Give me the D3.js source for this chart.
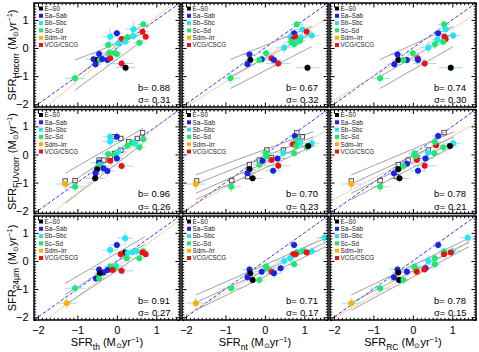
<!DOCTYPE html>
<html><head><meta charset="utf-8">
<script src="https://cdn.jsdelivr.net/npm/d3@7"></script>
<style>body{margin:0;background:#fff}svg{display:block}text{font-family:"Liberation Sans",Arial,Helvetica,sans-serif}</style>
</head><body><svg id="c" width="479" height="352"></svg>
<script>
// ---------- data ----------
const typeNames = ["E\u2013S0","Sa\u2013Sab","Sb\u2013Sbc","Sc\u2013Sd","Sdm\u2013Irr","VCG/CSCG"];
const typeColors = ["#000000","#1f1fe6","#22e6f0","#22e86a","#ffb000","#ee1111"];
const xSubs = ["th","nt","RC"];
const ySubs = ["H\u03b1corr","FUVcorr","24\u03bcm"];
const axisTicks = [-2,-1,0,1];
const bValues = [[0.88,0.67,0.74],[0.96,0.70,0.78],[0.91,0.71,0.78]];
const sigmaValues = [[0.31,0.32,0.30],[0.26,0.23,0.21],[0.27,0.17,0.15]];
// orange fit lines [slope, intercept]
const fitLines = [[[1.14,-0.04],[0.88,-0.33],[0.85,-0.16]],
                  [[1.16,-0.19],[0.79,-0.38],[0.75,-0.10]],
                  [[1.05,-0.21],[0.80,-0.32],[0.80,-0.43]]];
// points: [x, y, type, xerr, yerr]
const ptsHaTh = [[0.67,0.84,3,.15,.12],[0.42,0.67,2,.2,.25],[0.00,0.52,1,.15,.15],[0.65,0.58,5,.15,.12],[-0.17,0.40,2,.2,.3],[0.12,0.32,5,.12,.1],[0.21,0.22,2,.15,.12],[0.27,0.38,3,.2,.15],[0.42,0.43,2,.15,.15],[0.73,0.40,5,.12,.1],[0.57,0.19,3,.15,.15],[-0.22,0.11,3,.15,.15],[0.04,0.17,2,.2,.2],[-0.45,-0.21,1,.2,.15],[-0.19,-0.17,3,.15,.15],[-0.05,-0.19,3,.15,.12],[0.00,-0.21,3,.12,.12],[-0.59,-0.40,1,.2,.15],[-0.49,-0.43,0,.15,.12],[-0.43,-0.43,3,.15,.12],[-0.37,-0.39,1,.2,.15],[-0.24,-0.43,1,.2,.2],[-0.17,-0.37,5,.12,.1],[-0.54,-0.58,1,.15,.15],[0.12,-0.55,5,.3,.15],[0.22,-0.70,0,.25,.15],[-1.06,-1.08,3,.25,.2]];
const ptsHaNt = [[0.81,0.84,3,.15,.12],[0.95,0.66,2,.2,.25],[0.74,0.52,1,.15,.15],[1.06,0.58,5,.15,.12],[0.78,0.40,5,.12,.1],[0.65,0.38,2,.2,.2],[0.72,0.32,5,.12,.1],[0.91,0.37,2,.15,.12],[1.19,0.44,2,.2,.15],[0.67,0.22,3,.15,.15],[0.81,0.22,2,.15,.15],[0.74,0.13,3,.15,.15],[0.89,0.26,3,.15,.12],[0.49,0.01,2,.2,.2],[-0.39,-0.23,1,.2,.15],[0.03,-0.19,3,.15,.12],[-0.37,-0.43,0,.15,.12],[-0.44,-0.58,1,.2,.15],[-0.08,-0.40,1,.2,.15],[-0.14,-0.43,3,.15,.12],[0.17,-0.37,5,.12,.1],[0.23,-0.43,1,.2,.2],[0.34,-0.55,5,.3,.15],[1.08,-0.70,0,.3,.15],[-0.87,-1.08,3,.25,.2]];
const ptsHaRc = [[0.79,0.84,3,.15,.12],[0.83,0.67,2,.2,.25],[0.64,0.52,1,.15,.15],[0.83,0.32,5,.12,.1],[1.02,0.44,2,.2,.15],[0.80,0.40,5,.12,.1],[0.56,0.13,3,.15,.15],[0.77,0.22,3,.15,.15],[0.39,0.01,2,.2,.2],[0.62,0.30,2,.15,.12],[-0.39,-0.23,1,.2,.15],[0.00,-0.19,3,.15,.12],[-0.37,-0.43,0,.15,.12],[-0.47,-0.58,1,.2,.15],[-0.15,-0.43,1,.2,.15],[-0.24,-0.43,3,.15,.12],[0.12,-0.37,5,.12,.1],[0.13,-0.43,1,.2,.2],[0.30,-0.55,5,.3,.15],[0.96,-0.70,0,.3,.15],[-0.83,-1.08,3,.25,.2]];
const ptsFuvTh = [[-0.17,0.63,2,.2,.2],[0.00,0.63,1,.15,.15],[-0.17,0.46,2,.2,.2],[0.38,0.42,3,.15,.15],[0.27,0.31,3,.15,.15],[0.46,0.40,2,.15,.15],[0.67,0.54,3,.15,.12],[0.57,0.26,3,.15,.15],[-0.22,0.02,3,.15,.15],[0.04,0.10,2,.2,.2],[-0.05,-0.02,3,.15,.15],[-0.45,-0.29,1,.2,.15],[0.00,-0.14,1,.15,.15],[-0.17,-0.22,5,.12,.1],[-0.43,-0.37,3,.15,.15],[-0.34,-0.49,1,.2,.15],[-0.24,-0.59,1,.2,.2],[0.12,-0.41,5,.3,.15],[-0.50,-0.53,0,.15,.12],[-0.54,-0.67,1,.2,.15],[-0.55,-0.85,0,.25,.15],[-1.31,-1.05,4,.25,.2],[-1.06,-1.15,3,.25,.2]];
const ptsFuvNt = [[0.76,0.66,1,.15,.15],[0.81,0.51,3,.15,.12],[0.89,0.42,2,.15,.15],[0.71,0.36,5,.12,.1],[0.79,0.30,3,.15,.12],[1.19,0.40,2,.2,.15],[1.06,0.26,3,.15,.15],[1.10,0.30,0,.2,.15],[0.74,0.04,3,.15,.15],[0.47,0.06,2,.2,.2],[0.17,-0.20,5,.12,.1],[0.32,-0.14,1,.2,.15],[0.02,0.06,3,.15,.15],[0.05,-0.06,3,.15,.15],[-0.14,-0.37,3,.15,.15],[-0.06,-0.22,1,.2,.15],[0.34,-0.40,5,.3,.15],[0.21,-0.58,1,.2,.2],[-0.39,-0.53,0,.15,.12],[-0.44,-0.67,1,.2,.15],[-0.31,-0.85,0,.25,.15],[-0.85,-1.15,3,.25,.2],[-1.75,-1.05,4,.25,.2]];
const ptsFuvRc = [[0.64,0.66,1,.15,.15],[1.02,0.40,2,.2,.15],[0.94,0.30,0,.2,.15],[0.77,0.26,3,.15,.15],[0.59,0.33,5,.12,.1],[0.56,0.44,3,.15,.12],[0.54,0.04,3,.15,.15],[0.39,0.06,2,.2,.2],[0.32,-0.14,1,.2,.15],[0.10,-0.20,5,.12,.1],[0.04,0.04,3,.15,.15],[0.06,-0.06,3,.15,.15],[-0.15,-0.33,1,.2,.15],[-0.24,-0.41,3,.15,.15],[-0.37,-0.53,0,.15,.12],[-0.48,-0.67,1,.2,.15],[-0.34,-0.85,0,.25,.15],[0.30,-0.40,5,.3,.15],[0.13,-0.58,1,.2,.2],[-0.83,-1.15,3,.25,.2],[-1.56,-1.05,4,.25,.2]];
const ptsMirTh = [[0.00,0.57,1,.15,.15],[0.21,0.81,2,.2,.25],[-0.17,0.39,2,.2,.2],[0.21,0.30,0,.15,.12],[0.10,0.24,5,.12,.1],[0.27,0.28,2,.15,.12],[0.40,0.32,2,.15,.12],[0.25,0.10,3,.15,.15],[0.50,0.35,2,.15,.15],[0.67,0.35,3,.15,.12],[0.65,0.30,5,.12,.1],[0.73,0.24,5,.12,.1],[0.57,0.10,3,.15,.15],[-0.45,-0.30,1,.2,.15],[-0.17,-0.20,3,.15,.15],[-0.02,-0.17,2,.2,.2],[-0.05,-0.26,3,.15,.12],[-0.24,-0.32,1,.2,.15],[-0.34,-0.41,1,.2,.15],[-0.43,-0.44,0,.15,.12],[-0.53,-0.62,1,.2,.15],[-0.45,-0.62,3,.15,.12],[-0.11,-0.32,5,.12,.1],[0.12,-0.35,5,.3,.15],[-1.06,-0.97,3,.25,.2],[-1.27,-1.50,4,.25,.2]];
const ptsMirNt = [[1.51,0.83,2,.2,.2],[0.74,0.57,1,.15,.15],[0.93,0.35,2,.15,.15],[0.81,0.31,3,.15,.12],[0.72,0.24,5,.12,.1],[0.78,0.24,5,.12,.1],[1.19,0.35,2,.2,.15],[1.00,0.35,3,.15,.12],[1.06,0.30,5,.12,.1],[0.74,-0.12,3,.15,.15],[0.49,0.00,2,.2,.2],[0.64,0.10,2,.15,.15],[-0.39,-0.30,1,.2,.15],[0.03,-0.20,3,.15,.15],[0.05,-0.26,3,.15,.12],[-0.08,-0.38,1,.2,.15],[-0.37,-0.44,0,.15,.12],[-0.44,-0.58,1,.2,.15],[0.17,-0.38,5,.12,.1],[0.40,-0.26,1,.2,.15],[0.23,-0.44,1,.2,.2],[-0.31,-0.68,0,.25,.15],[-0.14,-0.68,3,.15,.15],[-0.85,-0.97,3,.25,.2],[-1.75,-1.50,4,.25,.2]];
const ptsMirRc = [[1.39,0.83,2,.2,.2],[0.64,0.57,1,.15,.15],[0.39,0.00,2,.2,.2],[0.56,0.10,3,.15,.15],[0.79,0.35,3,.15,.12],[0.79,0.24,5,.12,.1],[1.00,0.35,2,.2,.15],[0.96,0.30,5,.12,.1],[0.56,-0.12,3,.15,.15],[-0.39,-0.30,1,.2,.15],[0.04,-0.20,3,.15,.15],[0.06,-0.26,3,.15,.12],[-0.15,-0.38,1,.2,.15],[-0.37,-0.41,0,.15,.12],[-0.48,-0.58,1,.2,.15],[0.10,-0.38,5,.12,.1],[0.32,-0.26,1,.2,.15],[0.29,-0.30,5,.12,.1],[-0.35,-0.68,0,.25,.15],[-0.24,-0.68,3,.15,.15],[-0.83,-0.97,3,.25,.2],[-1.56,-1.50,4,.25,.2]];
// open squares (row 2)
const sqFuvTh = [[-1.31,-0.94],[-1.06,-0.93],[-0.45,-0.20],[-0.33,-0.20],[-0.17,-0.10],[-0.05,0.04],[0.10,0.15],[-0.10,0.63],[0.10,0.57],[0.65,0.77],[0.52,0.57],[0.30,0.45]];
const sqFuvNt = [[0.81,0.78],[0.95,0.63],[0.47,0.16],[0.17,-0.11],[0.05,0.16],[-0.14,-0.20],[-0.39,-0.36],[-0.44,-0.79],[-0.84,-0.93],[-1.73,-0.94]];
const sqFuvRc = [[0.79,0.78],[0.39,0.16],[0.10,-0.11],[-0.12,-0.20],[-0.37,-0.36],[-0.42,-0.79],[-0.83,-0.93],[-1.56,-0.94]];
// grey lines [x1,y1,x2,y2]
const greyHaTh = [[-1.06,-0.43,0.67,0.52],[-1.06,-1.50,0.67,0.28],[-1.06,-1.07,0.67,0.84]];
const greyHaNt = [[-0.87,-0.41,1.19,0.77],[-0.87,-1.44,1.19,0.05],[-0.87,-1.02,1.19,0.52]];
const greyHaRc = [[-0.83,-0.41,1.02,0.77],[-0.83,-1.44,1.02,0.05],[-0.83,-1.02,1.02,0.52]];
const greyFuvTh = [[-1.31,-0.67,0.67,0.93],[-1.31,-1.74,0.67,0.40],[-1.31,-1.15,0.67,0.75]];
const greyFuvNt = [[-1.75,-0.73,1.23,0.81],[-1.75,-1.38,1.23,0.46],[-1.75,-1.05,1.23,0.63],[-1.75,-1.60,1.23,0.30]];
const greyFuvRc = [[-1.56,-0.73,1.05,0.81],[-1.56,-1.38,1.05,0.46],[-1.56,-1.05,1.05,0.63],[-1.56,-1.60,1.05,0.30]];
const greyMirTh = [[-1.31,-0.80,0.71,0.86],[-1.31,-1.57,0.71,0.33],[-1.31,-1.20,0.71,0.60]];
const greyMirNt = [[-1.75,-1.21,1.54,0.81],[-1.75,-1.75,1.54,0.51],[-1.75,-1.48,1.54,0.66]];
const greyMirRc = [[-1.56,-1.21,1.42,0.81],[-1.56,-1.75,1.42,0.51],[-1.56,-1.48,1.42,0.66]];

const panelPts = [[ptsHaTh,ptsHaNt,ptsHaRc],[ptsFuvTh,ptsFuvNt,ptsFuvRc],[ptsMirTh,ptsMirNt,ptsMirRc]];
const panelSq = [[[],[],[]],[sqFuvTh,sqFuvNt,sqFuvRc],[[],[],[]]];
const panelGrey = [[greyHaTh,greyHaNt,greyHaRc],[greyFuvTh,greyFuvNt,greyFuvRc],[greyMirTh,greyMirNt,greyMirRc]];

// ---------- layout ----------
const colX = [34,182,330], rowY = [3,109.5,216], W = 146, H = 104;
const dom = [-2.1,1.6];
const x = d3.scaleLinear().domain(dom).range([0,W]);
const y = d3.scaleLinear().domain(dom).range([H,0]);
const svg = d3.select("#c");
const minorVals = d3.range(-21,17).filter(i=>i%10!==0).map(i=>i/10);

function sfrLabel(t, sub){
  t.append("tspan").text("SFR");
  t.append("tspan").attr("font-size",8.5).attr("dy",3.5).text(sub);
  t.append("tspan").attr("dy",-3.5).text(" (M");
  t.append("tspan").attr("font-size",6.5).attr("dy",2).text("\u2299");
  t.append("tspan").attr("dy",-2).text("yr");
  t.append("tspan").attr("font-size",7.5).attr("dy",-4).text("\u22121");
  t.append("tspan").attr("dy",4).text(")");
}

for (let r=0;r<3;r++) for (let c=0;c<3;c++){
  const g = svg.append("g").attr("transform",`translate(${colX[c]},${rowY[r]})`);
  const cid = `clip${r}${c}`;
  g.append("clipPath").attr("id",cid).append("rect").attr("width",W).attr("height",H);
  const pl = g.append("g").attr("clip-path",`url(#${cid})`);
  const line = d3.line().x(d=>x(d[0])).y(d=>y(d[1]));
  // 1:1 line
  pl.append("path").attr("d",line([[dom[0],dom[0]],[dom[1],dom[1]]]))
    .attr("stroke","#3535ff").attr("stroke-width",1).attr("stroke-dasharray","3.5,2").attr("fill","none");
  // orange fit
  const [s,i0] = fitLines[r][c];
  pl.append("path").attr("d",line([[dom[0],s*dom[0]+i0],[dom[1],s*dom[1]+i0]]))
    .attr("stroke","#ff9a5a").attr("stroke-width",1).attr("stroke-dasharray","1.2,1.2").attr("fill","none");
  // error bars
  const pts = panelPts[r][c];
  const eb = pl.append("g").attr("stroke","#a6dcf5").attr("stroke-width",1.1);
  eb.selectAll("line.h").data(pts).join("line").attr("x1",d=>x(d[0]-d[3])).attr("x2",d=>x(d[0]+d[3])).attr("y1",d=>y(d[1])).attr("y2",d=>y(d[1]));
  eb.selectAll("line.v").data(pts).join("line").attr("x1",d=>x(d[0])).attr("x2",d=>x(d[0])).attr("y1",d=>y(d[1]-d[4])).attr("y2",d=>y(d[1]+d[4]));
  // grey lines
  pl.append("g").selectAll("path").data(panelGrey[r][c]).join("path")
    .attr("d",d=>line([[d[0],d[1]],[d[2],d[3]]])).attr("stroke","#8a8a8a").attr("stroke-width",0.8).attr("fill","none");
  // open squares
  pl.append("g").selectAll("rect").data(panelSq[r][c]).join("rect")
    .attr("x",d=>x(d[0])-2.2).attr("y",d=>y(d[1])-2.2).attr("width",4.4).attr("height",4.4)
    .attr("fill","#ffffff").attr("fill-opacity",0.6).attr("stroke","#444").attr("stroke-width",0.9);
  // points
  pl.append("g").selectAll("circle").data(pts).join("circle")
    .attr("cx",d=>x(d[0])).attr("cy",d=>y(d[1])).attr("r",3)
    .attr("fill",d=>typeColors[d[2]]);
  // legend
  const lg = g.append("g").attr("transform","translate(5,5.5)");
  typeNames.forEach((n,k)=>{
    lg.append("rect").attr("x",0).attr("y",k*7.3-2).attr("width",4).attr("height",4).attr("fill",typeColors[k]);
    lg.append("text").attr("x",5.5).attr("y",k*7.3+2.3).attr("font-size",6.3).attr("fill","#222").text(n);
  });
  // stats
  g.append("text").attr("x",104).attr("y",87.5).attr("font-size",9.5).text(`b= ${bValues[r][c].toFixed(2)}`);
  g.append("text").attr("x",104).attr("y",100.2).attr("font-size",9.5).text(`\u03c3= ${sigmaValues[r][c].toFixed(2)}`);
  // axes: ticks inward on all sides
  const fmtNone = ()=>"";
  const mk = (ax, tr, vals, len, lab, pad) => {
    const a = ax.tickValues(vals).tickSize(-len).tickPadding(pad).tickFormat(lab ? d3.format("") : fmtNone);
    const gg = g.append("g").attr("transform",tr).call(a);
    gg.select(".domain").remove();
    gg.selectAll("line").attr("stroke","#000").attr("stroke-width",1);
    gg.selectAll("text").attr("font-size",11).attr("fill","#000").attr("font-family","Liberation Sans, Arial, sans-serif");
  };
  mk(d3.axisBottom(x), `translate(0,${H})`, minorVals, 2.2, false, 0);
  mk(d3.axisBottom(x), `translate(0,${H})`, axisTicks, 4.5, r===2, 6.5);
  mk(d3.axisTop(x), `translate(0,0)`, minorVals, 2.2, false, 0);
  mk(d3.axisTop(x), `translate(0,0)`, axisTicks, 4.5, false, 0);
  mk(d3.axisLeft(y), `translate(0,0)`, minorVals, 2.2, false, 0);
  mk(d3.axisLeft(y), `translate(0,0)`, axisTicks, 4.5, c===0, 5.5);
  mk(d3.axisRight(y), `translate(${W},0)`, minorVals, 2.2, false, 0);
  mk(d3.axisRight(y), `translate(${W},0)`, axisTicks, 4.5, false, 0);
  g.append("rect").attr("width",W).attr("height",H).attr("fill","none").attr("stroke","#000").attr("stroke-width",1.5);
  // axis titles
  if (c===0){
    const t = svg.append("text").attr("transform",`translate(15.5,${rowY[r]+H/2}) rotate(-90)`)
      .attr("text-anchor","middle").attr("font-size",11);
    sfrLabel(t, ySubs[r]);
  }
  if (r===2){
    const t = svg.append("text").attr("x",colX[c]+W/2).attr("y",346)
      .attr("text-anchor","middle").attr("font-size",11);
    sfrLabel(t, xSubs[c]);
  }
}
</script></body></html>
